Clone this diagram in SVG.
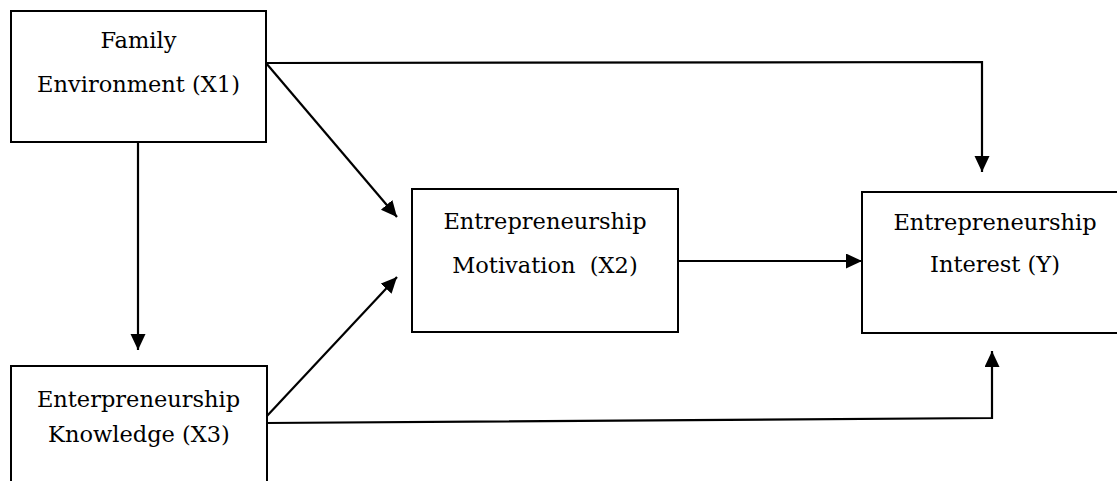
<svg xmlns="http://www.w3.org/2000/svg" width="1117" height="481" viewBox="0 0 1117 481">
<style>
.box{fill:#fff;stroke:#000;stroke-width:2}
.lbl{font-family:"DejaVu Serif","Liberation Serif",serif;font-size:22.5px;fill:#000;text-anchor:middle}
.conn{fill:none;stroke:#000;stroke-width:2.2}
</style>
<defs>
<marker id="arr" markerUnits="userSpaceOnUse" markerWidth="18" markerHeight="16" refX="16" refY="7.5" orient="auto">
<path d="M0,0 L16,7.5 L0,15 Z" fill="#000"/>
</marker>
</defs>
<rect width="1117" height="481" fill="#fff"/>
<g id="connectors">
<path class="conn" d="M266,63 L982,62 L982,172" marker-end="url(#arr)"/>
<path class="conn" d="M266,63 L397,217" marker-end="url(#arr)"/>
<path class="conn" d="M138,142 L138,350" marker-end="url(#arr)"/>
<path class="conn" d="M266,417 L397,277" marker-end="url(#arr)"/>
<path class="conn" d="M266,423 L992,418 L992,351" marker-end="url(#arr)"/>
<path class="conn" d="M678,261 L862,261" marker-end="url(#arr)"/>
</g>
<g id="family">
<rect class="box" x="11" y="11" width="255" height="131"/>
<text class="lbl" x="138.5" y="48">Family</text>
<text class="lbl" x="138.5" y="92">Environment (X1)</text>
</g>
<g id="knowledge">
<rect class="box" x="11" y="366" width="256" height="130"/>
<text class="lbl" x="138.5" y="407">Enterpreneurship</text>
<text class="lbl" x="139" y="442">Knowledge (X3)</text>
</g>
<g id="motivation">
<rect class="box" x="412" y="189" width="266" height="143"/>
<text class="lbl" x="545" y="229">Entrepreneurship</text>
<text class="lbl" x="545" y="273" xml:space="preserve">Motivation  (X2)</text>
</g>
<g id="interest">
<rect class="box" x="862" y="192" width="270" height="141"/>
<text class="lbl" x="995" y="230">Entrepreneurship</text>
<text class="lbl" x="995" y="272">Interest (Y)</text>
</g>
</svg>
